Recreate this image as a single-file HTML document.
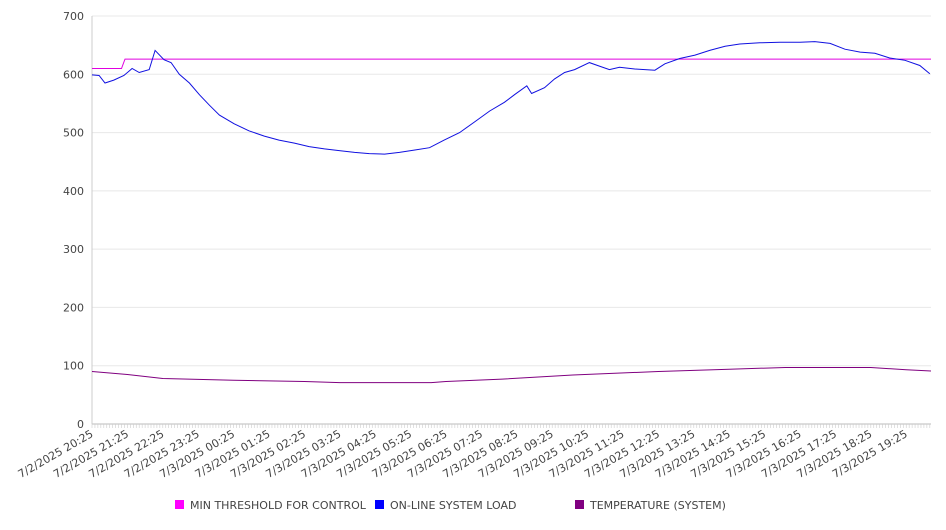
<!DOCTYPE html>
<html><head><meta charset="utf-8"><style>
body{margin:0;background:#fff;font-family:"DejaVu Sans","Liberation Sans",sans-serif;}
svg text{font-family:"DejaVu Sans","Liberation Sans",sans-serif;}
</style></head><body>
<svg id="chart" width="946" height="526" xmlns="http://www.w3.org/2000/svg"></svg>
<script>
const yTicks=[0,100,200,300,400,500,600,700];
const xTickLabels=["7/2/2025 20:25","7/2/2025 21:25","7/2/2025 22:25","7/2/2025 23:25","7/3/2025 00:25","7/3/2025 01:25","7/3/2025 02:25","7/3/2025 03:25","7/3/2025 04:25","7/3/2025 05:25","7/3/2025 06:25","7/3/2025 07:25","7/3/2025 08:25","7/3/2025 09:25","7/3/2025 10:25","7/3/2025 11:25","7/3/2025 12:25","7/3/2025 13:25","7/3/2025 14:25","7/3/2025 15:25","7/3/2025 16:25","7/3/2025 17:25","7/3/2025 18:25","7/3/2025 19:25"];
const loadMinutes=[0,12,22,37,54,68,80,97,107,122,134,148,165,182,199,216,241,266,292,317,343,368,394,419,445,470,496,521,546,572,597,623,648,674,699,716,737,745,767,784,801,818,843,860,877,894,920,954,971,996,1022,1047,1073,1098,1132,1166,1200,1225,1251,1276,1302,1327,1352,1378,1403,1420];
const loadValues=[599,598,585,590,598,610,603,608,641,625,620,600,585,565,547,530,515,503,494,487,482,476,472,469,466,464,463,466,470,474,487,500,518,537,552,565,580,567,577,592,603,608,620,614,608,612,609,607,618,627,633,641,648,652,654,655,655,656,653,643,638,636,628,624,615,601];
const tempMinutes=[0,60,120,240,360,420,575,600,695,815,960,1080,1175,1320,1380,1422];
const tempValues=[90,85,78,75,73,71,71,73,77,84,90,94,97,97,93,91];
const threshMinutes=[0,50,56,1422];
const threshValues=[610,610,626,626];
const totalMinutes=1422;

const NS="http://www.w3.org/2000/svg";
const svg=document.getElementById('chart');
const X0=92,X1=931,Y0=424,Y1=16;
const xs=m=>X0+(m/totalMinutes)*(X1-X0);
const ys=v=>Y0-(v/700)*(Y0-Y1);
function mk(tag,attrs,parent){const e=document.createElementNS(NS,tag);for(const k in attrs)e.setAttribute(k,attrs[k]);(parent||svg).appendChild(e);return e;}

yTicks.forEach(v=>{
  const g=mk('line',{x1:X0,x2:X1,y1:ys(v),y2:ys(v),stroke:v===0?'#bbb':'#e8e8e8','stroke-width':1});
  
  
  const t=mk('text',{x:84,y:ys(v)+4,'text-anchor':'end','font-size':11,fill:'#444'});
  t.textContent=v;
  
  
});
const ax=mk('line',{x1:X0,x2:X0,y1:Y1,y2:Y0,stroke:'#ccc'});


for(let m=0;m<=totalMinutes;m+=5){
  const tk=mk('line',{x1:xs(m),x2:xs(m),y1:Y0,y2:Y0+4,stroke:'#ccc','stroke-width':0.6});
  
  
}
xTickLabels.forEach((l,i)=>{
  const x=xs(i*60)+2,y=Y0+12;
  const t=mk('text',{x:x,y:y,'text-anchor':'end','font-size':11,fill:'#444',transform:`rotate(-30 ${x} ${y})`});
  t.textContent=l;
  
  
});
function series(mins,vals,color,name){
  const d=mins.map((m,i)=>(i?'L':'M')+xs(m).toFixed(1)+','+ys(vals[i]).toFixed(1)).join('');
  const p=mk('path',{d:d,fill:'none',stroke:color,'stroke-width':1});
  
  
}
series(threshMinutes,threshValues,'#e000e0','threshold-line');
series(tempMinutes,tempValues,'#800080','temperature-line');
series(loadMinutes,loadValues,'#1010e0','system-load-line');

const legend=[["MIN THRESHOLD FOR CONTROL","#ff00ff",175],["ON-LINE SYSTEM LOAD","#0000ff",375],["TEMPERATURE (SYSTEM)","#800080",575]];
legend.forEach(([txt,c,x])=>{
  const r=mk('rect',{x:x,y:500,width:9,height:9,fill:c});
  
  
  const t=mk('text',{x:x+15,y:509,'font-size':11,fill:'#444'});
  t.textContent=txt;
  
  
});
</script>
</body></html>
